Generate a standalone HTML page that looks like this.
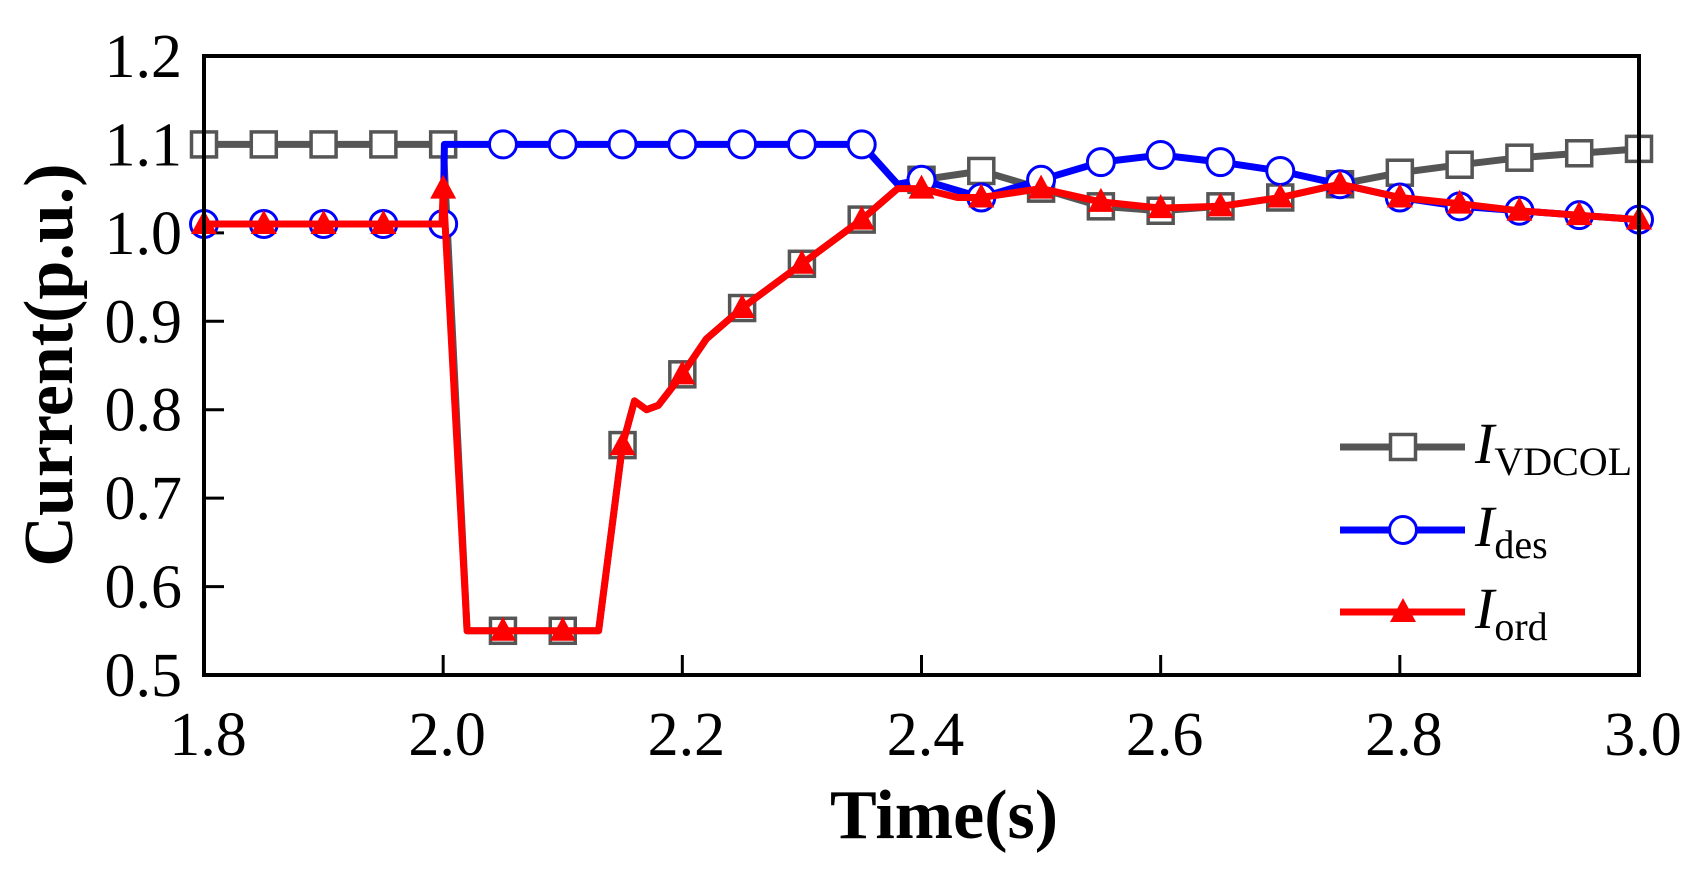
<!DOCTYPE html>
<html><head><meta charset="utf-8"><style>
html,body{margin:0;padding:0;background:#fff;}
svg{display:block;font-family:"Liberation Serif",serif;}
</style></head><body>
<svg id="chart" width="1701" height="870" viewBox="0 0 1701 870" xmlns="http://www.w3.org/2000/svg"></svg>
<script>
const xTicks=[1.8,2.0,2.2,2.4,2.6,2.8,3.0];
const xTickLabels=["1.8","2.0","2.2","2.4","2.6","2.8","3.0"];
const yTicks=[0.5,0.6,0.7,0.8,0.9,1.0,1.1,1.2];
const yTickLabels=["0.5","0.6","0.7","0.8","0.9","1.0","1.1","1.2"];
const vdcolT=[1.8,1.85,1.9,1.95,2.0,2.02,2.05,2.1,2.13,2.15,2.16,2.17,2.18,2.2,2.22,2.25,2.3,2.35,2.38,2.4,2.45,2.5,2.55,2.6,2.65,2.7,2.75,2.8,2.85,2.9,2.95,3.0];
const vdcolV=[1.10,1.10,1.10,1.10,1.10,0.55,0.55,0.55,0.55,0.76,0.81,0.80,0.805,0.84,0.88,0.915,0.965,1.015,1.05,1.06,1.07,1.05,1.03,1.025,1.03,1.04,1.055,1.068,1.077,1.085,1.09,1.095];
const desT=[1.8,1.85,1.9,1.95,2.0,2.001,2.05,2.1,2.15,2.2,2.25,2.3,2.35,2.38,2.4,2.45,2.5,2.55,2.6,2.65,2.7,2.75,2.8,2.85,2.9,2.95,3.0];
const desV=[1.01,1.01,1.01,1.01,1.01,1.10,1.10,1.10,1.10,1.10,1.10,1.10,1.10,1.055,1.06,1.04,1.06,1.08,1.088,1.08,1.07,1.055,1.04,1.03,1.025,1.02,1.015];
const ordT=[1.8,1.85,1.9,1.95,1.999,2.0,2.02,2.05,2.1,2.13,2.15,2.16,2.17,2.18,2.2,2.22,2.25,2.3,2.35,2.38,2.4,2.43,2.45,2.5,2.55,2.6,2.65,2.7,2.75,2.8,2.85,2.9,2.95,3.0];
const ordV=[1.01,1.01,1.01,1.01,1.01,1.05,0.55,0.55,0.55,0.55,0.76,0.81,0.80,0.805,0.84,0.88,0.915,0.965,1.015,1.05,1.05,1.04,1.04,1.05,1.035,1.028,1.03,1.04,1.055,1.04,1.033,1.025,1.02,1.015];

const svg=document.getElementById('chart');
const NS='http://www.w3.org/2000/svg';
const L=204,R=1639,T=56,B=675;
const xS=v=>L+(v-1.8)/(3.0-1.8)*(R-L);
const yS=v=>B-(v-0.5)/(1.2-0.5)*(B-T);
function mk(tag,attrs,parent){const e=document.createElementNS(NS,tag);for(const k in attrs)e.setAttribute(k,attrs[k]);(parent||svg).appendChild(e);return e;}
const isMarker=t=>Math.abs(t*20-Math.round(t*20))<1e-6;

function series(name,ts,vs,color,marker){
  const g=mk('g',{});
  
  
  const pts=ts.map((t,i)=>xS(t).toFixed(1)+','+yS(vs[i]).toFixed(1)).join(' ');
  const pl=mk('polyline',{points:pts,fill:'none',stroke:color,'stroke-width':7,'stroke-linejoin':'round'},g);
  
  
  ts.forEach((t,i)=>{
    if(!isMarker(t)) return;
    const m=drawMarker(marker,xS(t),yS(vs[i]),g);
    
    
  });
}
function drawMarker(type,x,y,g){
  if(type==='square') return mk('rect',{x:x-12.5,y:y-12.5,width:25,height:25,fill:'#fff',stroke:'#555','stroke-width':3.5},g);
  if(type==='circle') return mk('circle',{cx:x,cy:y,r:13.5,fill:'#fff',stroke:'#0000ff','stroke-width':3},g);
  return mk('polygon',{points:`${x},${y-14} ${x-13},${y+10} ${x+13},${y+10}`,fill:'#ff0000'},g);
}

xTicks.forEach((t,i)=>{
  const tk=mk('line',{x1:xS(t),x2:xS(t),y1:B,y2:B-20,stroke:'#000','stroke-width':3});
  
  
  const tx=mk('text',{x:xS(t)+4,y:755,'font-size':62,'text-anchor':'middle',fill:'#000'});
  tx.textContent=xTickLabels[i];
  
  
});
yTicks.forEach((v,i)=>{
  const tk=mk('line',{x1:L,x2:L+20,y1:yS(v),y2:yS(v),stroke:'#000','stroke-width':3});
  
  
  const tx=mk('text',{x:182,y:yS(v)+21,'font-size':62,'text-anchor':'end',fill:'#000'});
  tx.textContent=yTickLabels[i];
  
  
});

series('i-vdcol',vdcolT,vdcolV,'#555555','square');
series('i-des',desT,desV,'#0000ff','circle');
series('i-ord',ordT,ordV,'#ff0000','triangle');

const frame=mk('rect',{x:L,y:T,width:R-L,height:B-T,fill:'none',stroke:'#000','stroke-width':4});



const leg=[['VDCOL','#555555','square',447],['des','#0000ff','circle',530],['ord','#ff0000','triangle',612]];
leg.forEach(([sub,c,m,y])=>{
  const g=mk('g',{});
  
  
  mk('line',{x1:1340,x2:1465,y1:y,y2:y,stroke:c,'stroke-width':7},g);
  drawMarker(m,1403,y,g);
  const t=mk('text',{x:1475,y:y+16,'font-size':58,fill:'#000'},g);
  const a=mk('tspan',{'font-style':'italic'},t);a.textContent='I';
  const b=mk('tspan',{'font-size':40,dy:12},t);b.textContent=sub;
});

const xt=mk('text',{x:944,y:838,'font-size':70,'font-weight':'bold','text-anchor':'middle',fill:'#000'});
xt.textContent='Time(s)';


const yt=mk('text',{x:0,y:0,'font-size':70,'font-weight':'bold','text-anchor':'middle',fill:'#000',transform:'translate(72,365) rotate(-90)'});
yt.textContent='Current(p.u.)';


</script>
</body></html>
